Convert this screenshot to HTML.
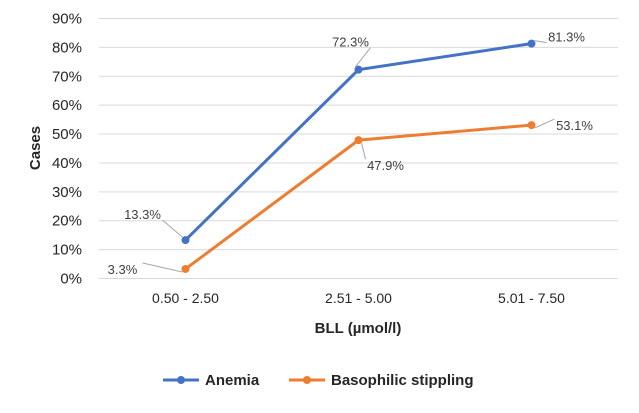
<!DOCTYPE html>
<html><head><meta charset="utf-8"><style>
body{margin:0;background:#fff;font-family:"Liberation Sans",sans-serif}
svg text{font-family:"Liberation Sans",sans-serif}
</style></head><body>
<svg width="639" height="408" id="chart"></svg>
<script>
const categories=["0.50 - 2.50","2.51 - 5.00","5.01 - 7.50"];
const anemia=[13.3,72.3,81.3];
const basophilic=[3.3,47.9,53.1];
const yTicks=[0,10,20,30,40,50,60,70,80,90];
const NS="http://www.w3.org/2000/svg";
const svg=document.getElementById('chart');
const left=99,right=618,y0=278.5,y90=18.5;
const x=i=>left+(right-left)*(i+0.5)/categories.length;
const y=v=>y0-(y0-y90)*v/90;
function mk(t,a,p){const e=document.createElementNS(NS,t);for(const k in a)e.setAttribute(k,a[k]);(p||svg).appendChild(e);return e;}
yTicks.forEach(t=>{
 const g=mk('line',{x1:left,x2:right,y1:y(t),y2:y(t),stroke:'#d9d9d9','stroke-width':1});
 
 
 const l=mk('text',{x:82,y:y(t)+5,'text-anchor':'end','font-size':15,fill:'#262626'});l.textContent=t+'%';
 
 
});
categories.forEach((c,i)=>{
 const l=mk('text',{x:x(i),y:303,'text-anchor':'middle','font-size':14,fill:'#262626'});l.textContent=c;
 
 
});
const yt=mk('text',{x:0,y:0,transform:'translate(40,148) rotate(-90)','text-anchor':'middle','font-size':15,'font-weight':'bold',fill:'#262626'});yt.textContent='Cases';


const xt=mk('text',{x:358,y:333,'text-anchor':'middle','font-size':15,'font-weight':'bold',fill:'#262626'});xt.textContent='BLL (µmol/l)';


function series(vals,color,name){
 const pl=mk('polyline',{points:vals.map((v,i)=>x(i)+','+y(v)).join(' '),fill:'none',stroke:color,'stroke-width':3});
 
 
 vals.forEach((v,i)=>{const c=mk('circle',{cx:x(i),cy:y(v),r:4,fill:color});
 
 });
}
series(basophilic,'#ed7d31','basophilic');
series(anemia,'#4472c4','anemia');
// labels: [series, index, dx, dy for text center]
const labs=[[anemia,0,-43,-26],[anemia,1,-8,-28],[anemia,2,35,-7],[basophilic,0,-63,0],[basophilic,1,27,25],[basophilic,2,43,0]];
labs.forEach(([s,i,dx,dy])=>{
 const px=x(i),py=y(s[i]),tx=px+dx,ty=py+dy;
 const ln=mk('line',{x1:px-(dx<0?3:-3),y1:py+(dy<0?-3:3),x2:tx+(dx<0?20:-20),y2:ty+(dy<0?6:-6),stroke:'#a6a6a6','stroke-width':1});
 
 
 const t=mk('text',{x:tx,y:ty+5,'text-anchor':'middle','font-size':13,fill:'#404040'});t.textContent=s[i]+'%';
 
 
});
// legend
[[163,'#4472c4','Anemia'],[289,'#ed7d31','Basophilic stippling']].forEach(([lx,c,n])=>{
 const g=mk('g',{});
 
 
 mk('line',{x1:lx,x2:lx+36,y1:380,y2:380,stroke:c,'stroke-width':3},g);
 mk('circle',{cx:lx+18,cy:380,r:4,fill:c},g);
 const t=mk('text',{x:lx+42,y:385,'font-size':15,'font-weight':'bold',fill:'#262626'},g);t.textContent=n;
});
</script>
</body></html>
